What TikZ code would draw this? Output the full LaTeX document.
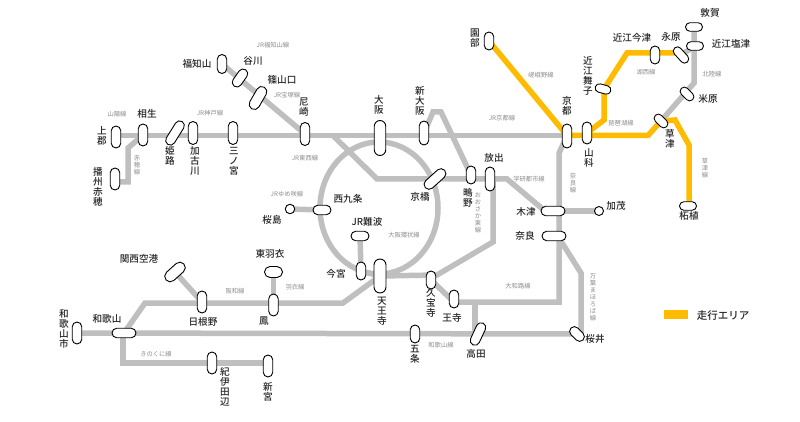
\documentclass[tikz,border=0pt]{standalone}
\usepackage{fontspec}
\setmainfont{Noto Sans CJK JP}[BoldFont={Noto Sans CJK JP Medium}]
\usetikzlibrary{shapes.misc}
\pgfdeclarelayer{bg}
\pgfsetlayers{bg,main}
\definecolor{lg}{HTML}{BFBFBF}
\definecolor{yl}{HTML}{FFBB00}
\definecolor{lb}{HTML}{8C8C8C}
\tikzset{
 pill/.style={rounded rectangle,draw=black,fill=white,line width=0.9pt,inner sep=0pt,minimum height=9.5pt},
 vp/.style={pill,minimum width=#1,rotate=90},
 hp/.style={pill,minimum width=#1},
 rp/.style 2 args={pill,minimum width=#1,rotate=#2},
 halt/.style={circle,draw=black,fill=white,line width=0.9pt,inner sep=0pt,minimum size=9.5pt},
 stn/.style={font=\bfseries\fontsize{9.6}{10.2}\selectfont,align=center,inner sep=0pt,text=black!85},
 lin/.style={font=\fontsize{6.3}{7}\selectfont,align=center,inner sep=0pt,text=lb},
 gl/.style={draw=lg,line width=5.5pt,line join=miter},
 yp/.style={draw=yl,line width=5.5pt,line join=miter},
}
\begin{document}
\begin{tikzpicture}[x=1pt,y=-1pt]
\useasboundingbox (0,0) rectangle (800,422);
% stations
\node[vp=22] (kamigori) at (116,137) {};
\node[vp=22] (aioi) at (143,135) {};
\node[rp={27}{58}] (himeji) at (175,133) {};
\node[vp=23] (kakogawa) at (193,133) {};
\node[vp=23] (sannomiya) at (233,133) {};
\node[vp=23] (amagasaki) at (305,134) {};
\node[vp=19] (fukuchiyama) at (222,64) {};
\node[rp={20}{55}] (tanigawa) at (240,78) {};
\node[rp={25}{60},minimum height=10.5pt] (sasayama) at (258,98) {};
\node[vp=22] (ako) at (115,179) {};
\node[vp=35,minimum height=11.5pt] (osaka) at (380,138) {};
\node[vp=24] (shinosaka) at (424,133) {};
\node[vp=24] (kyoto) at (567,136) {};
\node[rp={26}{42},minimum height=10pt] (kyobashi) at (435,179) {};
\node[vp=18] (shigino) at (471,175) {};
\node[vp=24] (hanaten) at (490,179) {};
\node[hp=24] (kizu) at (553,211) {};
\node[hp=24] (nara) at (554,236) {};
\node[hp=18] (namba) at (360,236) {};
\node[hp=18] (nishikujo) at (322,210) {};
\node[halt] (sakurajima) at (290,209) {};
\node[vp=18] (imamiya) at (361,271) {};
\node[vp=34,minimum height=12pt] (tennoji) at (380,276) {};
\node[vp=18] (kyuhoji) at (431,280) {};
\node[vp=18] (oji) at (454,299) {};
\node[vp=18] (gojo) at (415,334) {};
\node[rp={24}{65}] (takada) at (478,334) {};
\node[rp={17}{-45}] (sakurai) at (577,334) {};
\node[rp={24}{42},minimum height=11pt] (kanku) at (175,272) {};
\node[vp=22] (hineno) at (202,302) {};
\node[hp=18,minimum height=11pt] (hagoromo) at (273.5,272) {};
\node[vp=22] (otori) at (273.5,305) {};
\node[vp=22] (wakayamashi) at (77,333) {};
\node[hp=24] (wakayama) at (124,333) {};
\node[vp=22] (tanabe) at (212,363) {};
\node[vp=22] (shingu) at (268,366) {};
\node[vp=18] (sonobe) at (489,41) {};
\node[vp=22] (yamashina) at (587,133) {};
\node[rp={16}{-15},minimum height=8.5pt] (maiko) at (603,89) {};
\node[vp=18] (imazu) at (655,55) {};
\node[rp={19}{-48},minimum height=8.5pt] (nagahara) at (681,55) {};
\node[hp=17,minimum height=8.5pt] (shiotsu) at (695,46) {};
\node[hp=17,minimum height=8.5pt] (tsuruga) at (694,27) {};
\node[rp={16}{-45},minimum height=8.5pt] (maibara) at (687,94) {};
\node[rp={16}{-45},minimum height=8.5pt] (kusatsu) at (661,121) {};
\node[hp=17,minimum height=8.5pt] (tsuge) at (688,206) {};
\node[halt,minimum size=9pt] (kamo) at (599,211) {};
% bends
\coordinate (c0) at (116,135.5);
\coordinate (c1) at (128,182);
\coordinate (c2) at (128,148);
\coordinate (c3) at (333,135.5);
\coordinate (c4) at (377,179);
\coordinate (c5) at (507,179);
\coordinate (c6) at (433,112);
\coordinate (c7) at (441,112);
\coordinate (c8) at (493,242);
\coordinate (c9) at (437,275);
\coordinate (c10) at (559,302);
\coordinate (c11) at (559,153);
\coordinate (c12) at (581,273);
\coordinate (c13) at (581,334);
\coordinate (c14) at (475,302);
\coordinate (c15) at (475,334);
\coordinate (c16) at (145,303);
\coordinate (c17) at (343,303);
\coordinate (c18) at (123,363);
\coordinate (c19) at (694,83);
\coordinate (c20) at (559,238);
\coordinate (c21) at (545,211);
\coordinate (c22) at (454,302);
\coordinate (c23) at (493,179);
\coordinate (c24) at (268,363);
\coordinate (c25) at (115,182);
\coordinate (c26) at (123,333);
\coordinate (y1) at (648,135.5);
\coordinate (y2) at (675,120);
\coordinate (y3) at (689,145);
\coordinate (y4) at (604,120);
\coordinate (y5) at (604,89);
\coordinate (y6) at (627,53);
\coordinate (y7) at (689,206);
\coordinate (y8) at (681,53);
\coordinate (j1) at (567,135.5);
\coordinate (leg1) at (664,314.5);
\coordinate (leg2) at (688,314.5);
% lines
\begin{pgfonlayer}{bg}
\draw[gl] (c0) -- (j1);
\draw[gl] (c25) -- (c1) -- (c2) -- (aioi.center);
\draw[gl] (fukuchiyama.center) -- (amagasaki.center);
\draw[gl] (379,208) ellipse [x radius=59,y radius=66];
\draw[gl] (c3) -- (c4) -- (c5) -- (c21);
\draw[gl] (shinosaka.center) -- (c6) -- (c7) -- (shigino.center);
\draw[gl] (c23) -- (c8) -- (c9) -- (tennoji.center);
\draw[gl] (kyuhoji.center) -- (c22) -- (c10) -- (c11) -- (kyoto.center);
\draw[gl] (c20) -- (c12) -- (c13) -- (sakurai.center);
\draw[gl] (c14) -- (c15);
\draw[gl] (wakayamashi.center) -- (sakurai.center);
\draw[gl] (wakayama.center) -- (c16) -- (c17) -- (tennoji.center);
\draw[gl] (c26) -- (c18) -- (c24);
\draw[gl] (kanku.center) -- (hineno.center);
\draw[gl] (hagoromo.center) -- (otori.center);
\draw[gl] (namba.center) -- (imamiya.center);
\draw[gl] (imamiya.center) -- (tennoji.center);
\draw[gl] (sakurajima.center) -- (nishikujo.center);
\draw[gl] (kizu.center) -- (kamo.center);
\draw[gl] (tsuruga.center) -- (c19) -- (kusatsu.center);
\draw[gl] (nagahara.center) -- (shiotsu.center);
\draw[yp] (sonobe.center) -- (j1) -- (y1) -- (kusatsu.center);
\draw[yp] (kusatsu.center) -- (y2) -- (y3) -- (y7);
\draw[yp] (yamashina.center) -- (y4) -- (y5) -- (y6) -- (y8);
\draw[draw=yl,line width=8.5pt] (leg1) -- (leg2);
\end{pgfonlayer}
% station labels
\node[stn] (l01) at (102,136) {上\\郡};
\node[stn] (l02) at (147,114) {相生};
\node[stn] (l03) at (170,156) {姫\\路};
\node[stn] (l04) at (195,161) {加\\古\\川};
\node[stn] (l05) at (234,161) {三\\ノ\\宮};
\node[stn] (l06) at (304,107) {尼\\崎};
\node[stn] (l07) at (197,64) {福知山};
\node[stn] (l08) at (253,61) {谷川};
\node[stn] (l09) at (282,80) {篠山口};
\node[stn] (l10) at (98,187) {播\\州\\赤\\穂};
\node[stn] (l11) at (379,105) {大\\阪};
\node[stn] (l12) at (420,101) {新\\大\\阪};
\node[stn] (l13) at (567,106) {京\\都};
\node[stn] (l14) at (494,158) {放出};
\node[stn] (l15) at (420,197) {京橋};
\node[stn] (l16) at (468,198) {鴫\\野};
\node[stn] (l17) at (348,199) {西九条};
\node[stn] (l18) at (367,222) {JR難波};
\node[stn] (l19) at (272,220) {桜島};
\node[stn] (l20) at (336,274) {今宮};
\node[stn] (l21) at (382,311) {天\\王\\寺};
\node[stn] (l22) at (431,303) {久\\宝\\寺};
\node[stn] (l23) at (452,318) {王寺};
\node[stn] (l24) at (415,354) {五\\条};
\node[stn] (l25) at (476,354) {高田};
\node[stn] (l26) at (595,339) {桜井};
\node[stn] (l27) at (526,212) {木津};
\node[stn] (l28) at (525,236) {奈良};
\node[stn] (l29) at (475,38) {園\\部};
\node[stn] (l30) at (588,76) {近\\江\\舞\\子};
\node[stn] (l31) at (632,38) {近江今津};
\node[stn] (l32) at (671,37) {永原};
\node[stn] (l33) at (710,13) {敦賀};
\node[stn] (l34) at (731,44) {近江塩津};
\node[stn] (l35) at (708,99) {米原};
\node[stn] (l36) at (670,139) {草\\津};
\node[stn] (l37) at (589,158) {山\\科};
\node[stn] (l38) at (689,216) {柘植};
\node[stn] (l39) at (616,206) {加茂};
\node[stn] (l40) at (139,259) {関西空港};
\node[stn] (l41) at (270,254) {東羽衣};
\node[stn] (l42) at (203,322) {日根野};
\node[stn] (l43) at (264,321) {鳳};
\node[stn] (l44) at (64,329) {和\\歌\\山\\市};
\node[stn] (l45) at (107,319) {和歌山};
\node[stn] (l46) at (225,387) {紀\\伊\\田\\辺};
\node[stn] (l47) at (268,392) {新\\宮};
\node[stn,font=\bfseries\fontsize{10.5}{13}\selectfont] (leg) at (723,316) {走行エリア};
% line labels
\node[lin] (t01) at (273,45) {JR福知山線};
\node[lin] (t02) at (287,95) {JR宝塚線};
\node[lin] (t03) at (117,114) {山陽線};
\node[lin] (t04) at (210,113) {JR神戸線};
\node[lin] (t05) at (305,158) {JR東西線};
\node[lin] (t06) at (287,194) {JRゆめ咲線};
\node[lin] (t07) at (502,118) {JR京都線};
\node[lin] (t08) at (541,75) {嵯峨野線};
\node[lin] (t09) at (404,235) {大阪環状線};
\node[lin] (t10) at (529,179) {学研都市線};
\node[lin] (t11) at (646,72) {湖西線};
\node[lin] (t12) at (621,123) {琵琶湖線};
\node[lin] (t13) at (712,74) {北陸線};
\node[lin] (t14) at (235,291) {阪和線};
\node[lin] (t15) at (295,287) {羽衣線};
\node[lin] (t16) at (156,354) {きのくに線};
\node[lin] (t17) at (441,345) {和歌山線};
\node[lin] (t18) at (518,286) {大和路線};
\node[lin] (t19) at (137,165) {赤\\穂\\線};
\node[lin] (t20) at (478,213) {お\\お\\さ\\か\\東\\線};
\node[lin] (t21) at (573,183) {奈\\良\\線};
\node[lin] (t22) at (705,168) {草\\津\\線};
\node[lin] (t23) at (593,297) {万\\葉\\ま\\ほ\\ろ\\ば\\線};
\end{tikzpicture}
\end{document}
